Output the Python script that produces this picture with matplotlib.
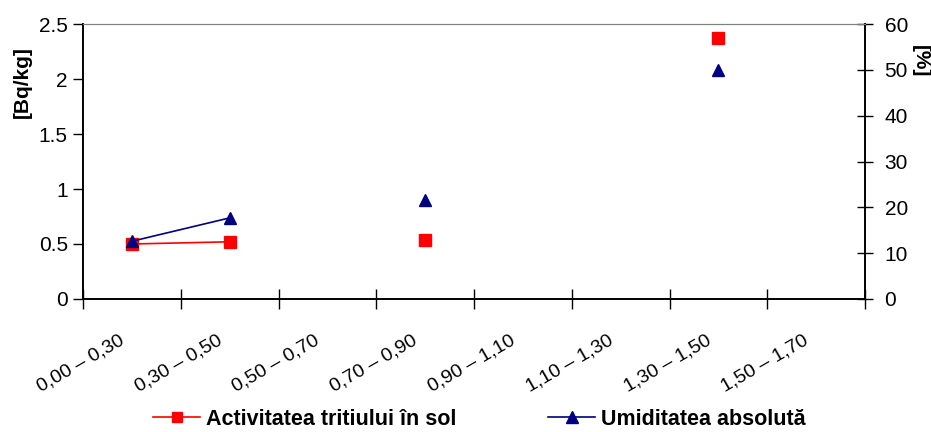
import numpy as np
import matplotlib.pyplot as plt
import matplotlib.transforms as mtransforms

plt.rcParams['font.family'] = ['Liberation Sans', 'DejaVu Sans']

# depth intervals (m)
intervals = ["0,00 – 0,30", "0,30 – 0,50", "0,50 – 0,70", "0,70 – 0,90",
             "0,90 – 1,10", "1,10 – 1,30", "1,30 – 1,50", "1,50 – 1,70"]
# tritium activity in soil [Bq/kg], nan = no sample
tritium = [0.50, 0.52, np.nan, 0.54, np.nan, np.nan, 2.37, np.nan]
# absolute humidity [%]
humidity = [12.6, 17.7, np.nan, 21.6, np.nan, np.nan, 50.0, np.nan]

x = np.arange(len(intervals)) + 0.5

fig = plt.figure(figsize=(9.31, 4.32), dpi=100)
ax = fig.add_axes([0.0892, 0.308, 0.84, 0.636])
ax2 = ax.twinx()

l1, = ax.plot(x, tritium, color='#ff0000', marker='s', markersize=8,
              linewidth=1.2, label='Activitatea tritiului în sol')
l2, = ax2.plot(x, humidity, color='#000080', marker='^', markersize=9,
               linewidth=1.2, label='Umiditatea absolută')

ax.set_xlim(0, len(intervals))
ax.set_ylim(0, 2.5)
ax.set_yticks([0, 0.5, 1, 1.5, 2, 2.5])
ax.set_yticklabels(['0', '0.5', '1', '1.5', '2', '2.5'])
ax2.set_ylim(0, 60)
ax2.set_yticks(range(0, 61, 10))

# boundaries get the tick marks, interval names sit at the centres
ax.set_xticks(range(len(intervals) + 1))
ax.set_xticklabels([])
ax.set_xticks(x, minor=True)
ax.set_xticklabels(intervals, minor=True, fontsize=14)
ax.tick_params(axis='x', which='minor', length=0, pad=29)
ax.tick_params(axis='x', which='major', direction='inout', length=14, width=1)
ax.tick_params(axis='y', direction='out', length=7, width=1, labelsize=15, pad=4)
ax2.tick_params(axis='y', direction='inout', length=12, width=1, labelsize=15, pad=8)

shift = mtransforms.ScaledTranslation(-9 / 100, 0, fig.dpi_scale_trans)
for lab in ax.get_xticklabels(minor=True):
    lab.set_rotation(30)
    lab.set_ha('right')
    lab.set_va('center')
    lab.set_rotation_mode('anchor')
    lab.set_transform(lab.get_transform() + shift)

for a in (ax, ax2):
    a.spines['top'].set_color('#808080')
    for s in ('left', 'right', 'bottom'):
        a.spines[s].set_linewidth(1.2)

fig.text(22 / 931, 1 - 82 / 432, '[Bq/kg]', rotation=90, ha='center',
         va='center', fontsize=15, fontweight='bold')
fig.text(920 / 931, 1 - 61 / 432, '[%]', rotation=270, ha='center',
         va='center', fontsize=15, fontweight='bold')

# one legend per series so each entry starts at its own place
for handle, left in ((l1, 153), (l2, 548)):
    fig.legend(handles=[handle], loc='center left',
               bbox_to_anchor=(left / 931, 0.03), frameon=False,
               borderpad=0, borderaxespad=0, handlelength=2.2,
               handletextpad=0.25, markerscale=0.9,
               prop={'weight': 'bold', 'size': 15.5})

fig.savefig('out.png', dpi=100)
